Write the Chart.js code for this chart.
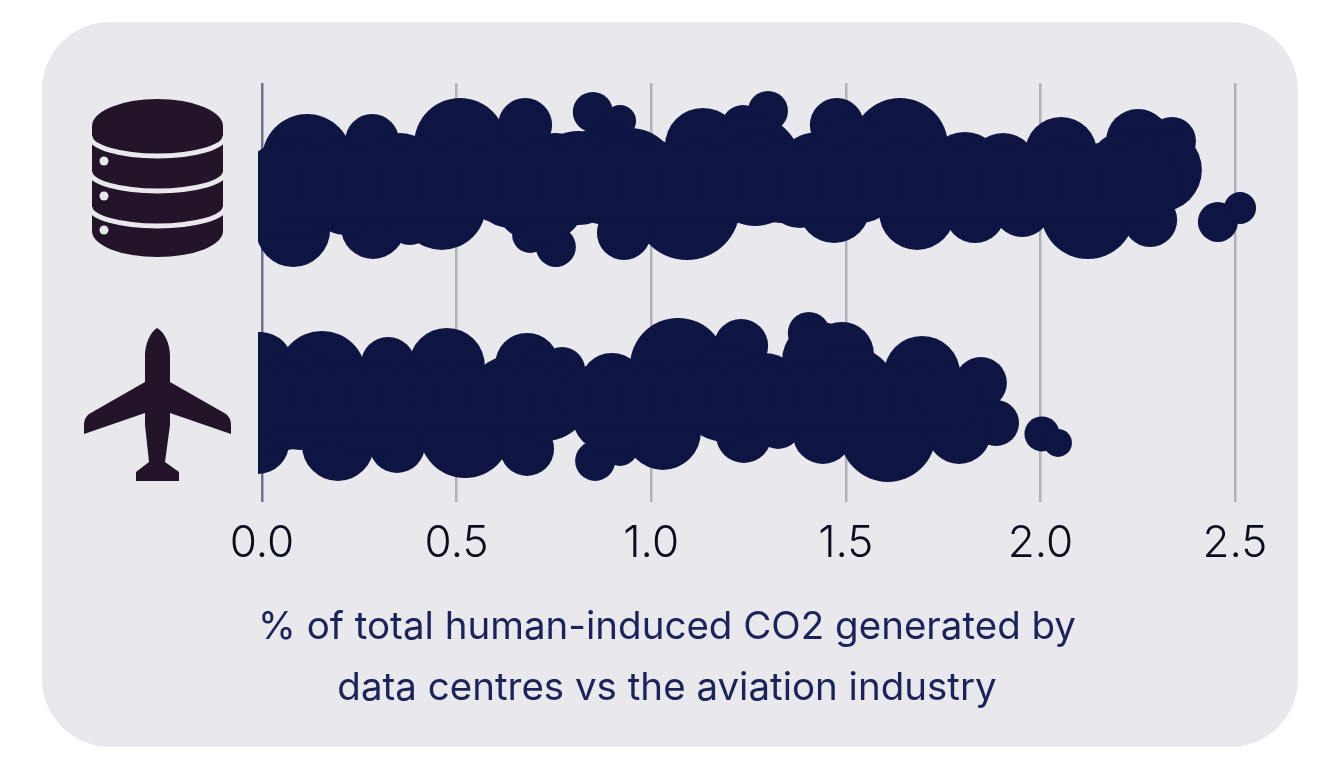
<!DOCTYPE html>
<html>
<head>
<meta charset="utf-8">
<script src="https://cdn.jsdelivr.net/npm/chart.js@4"></script>
<style>
  html, body { margin: 0; background: #fff; }
  #panel { position: absolute; left: 42px; top: 22px; width: 1256px; height: 725px; border-radius: 68px; background: #e8e8ed; }
  #bubbles { position: absolute; left: 0; top: 0; }
  svg { position: absolute; left: 0; top: 0; }
</style>
</head>
<body>
<div id="panel"></div>
<svg width="1320" height="773">
  <path fill="#231429" d="M92 126 V231 A65.5 26 0 0 0 223 231 V126 Z"/>
  <ellipse fill="#231429" cx="157.5" cy="126" rx="65.5" ry="27"/>
  <g fill="none" stroke="#e8e8ed" stroke-width="5">
    <path d="M90 136 A67.5 20 0 0 0 225 136"/>
    <path d="M90 172 A67.5 19 0 0 0 225 172"/>
    <path d="M90 207 A67.5 19 0 0 0 225 207"/>
  </g>
  <g fill="#e8e8ed">
    <circle cx="104" cy="161" r="4.5"/>
    <circle cx="104" cy="196" r="4.5"/>
    <circle cx="104" cy="230" r="4.5"/>
  </g>
  <path fill="#231429" d="M157 328 C150 332 145 345 145 355 L145 382 L89 414 Q84 418 84 425 L84 434 L145 413 L145 425 L149 462 L136 472 L136 481 L179 481 L179 472 L165 462 L170 425 L170 413 L231 434 L231 425 Q231 418 226 414 L170 382 L170 355 C170 345 165 332 157 328 Z"/>
</svg>
<canvas id="bubbles" width="1320" height="773"></canvas>
<script>
var tickValues = [0, 0.5, 1, 1.5, 2, 2.5];
var captionLines = ["% of total human-induced CO2 generated by", "data centres vs the aviation industry"];
var rowCentres = [0, 215];

// data centres
var dcShare = [0.116,0.080,0.072,0.283,0.355,0.285,0.380,0.509,0.462,0.213,0.676,0.753,0.850,0.920,0.889,0.946,0.971,1.133,1.236,1.300,1.249,1.477,1.429,1.092,0.930,0.755,0.689,0.714,0.637,1.267,1.382,1.470,1.639,1.683,1.511,1.806,1.904,1.832,1.953,2.053,2.122,2.282,2.251,2.338,2.307,2.230,2.456,2.513,0.812,
  0.098,0.200,0.303,0.406,0.509,0.612,0.714,0.817,0.920,1.023,1.125,1.228,1.331,1.434,1.536,1.639,1.742,1.845,1.948,2.050,2.153,2.256];
var dcSwarm = [-31,40,0,-49,-20,37,30,-46,16,10,-65,-25,-78,-69,-15,-15,0,-44,-63,-79,-22,-65,-12,17,43,57,45,5,0,-12,2,17,-44,22,-22,-20,-22,23,18,-37,22,30,-49,-49,-20,-15,32,18,-12,
  -7,-7,-7,-7,-7,-7,-7,-7,-7,-7,-7,-7,-7,-7,-7,-7,-7,-7,-7,-7,-7,-7];
var dcSize = [45,37,50,27,37,32,25,46,44,35,27,32,20,16,50,47,54,38,22,20,54,27,46,53,27,20,18,48,38,48,36,36,48,38,49,38,35,30,29,36,47,27,32,24,42,45,20,16,47,
  40,40,40,40,40,40,40,40,40,40,40,40,40,40,40,40,40,40,40,40,40,40];

// aviation
var avShare = [-0.005,-0.010,0.059,0.033,0.154,0.195,0.324,0.347,0.475,0.522,0.637,0.681,0.771,0.681,0.727,0.899,1.069,1.030,0.856,0.920,0.894,1.231,1.292,1.405,1.490,1.434,1.511,1.238,1.190,1.326,1.441,1.608,1.696,1.847,1.886,1.791,2.004,2.045,0.098,0.265,
  0.072,0.149,0.226,0.303,0.380,0.457,0.534,0.612,0.689,0.766,0.843,0.920,0.997,1.074,1.151,1.228,1.305,1.382,1.459,1.536,1.614,1.691,1.768];
var avSwarm = [-40,38,0,0,-30,40,-41,40,-39,27,-8,-40,-35,44,-10,-20,-39,27,56,43,10,-59,-15,-72,-51,-45,-10,30,-10,20,29,29,-31,-22,18,27,29,38,-5,5,
  -7,-7,-7,-7,-7,-7,-7,-7,-7,-7,-7,-7,-7,-7,-7,-7,-7,-7,-7,-7,-7,-7,-7];
var avSize = [33,31,45,45,44,36,27,28,38,46,41,32,23,27,46,32,48,38,20,18,38,27,37,21,32,38,48,28,47,24,30,48,38,26,23,32,17.5,14,50,45,
  32,32,32,32,32,32,32,32,32,32,32,32,32,32,32,32,32,32,32,32,32,32,32];

function points(share, swarm, size, row) {
  return share.map(function (v, i) {
    return { x: v, y: rowCentres[row] + swarm[i], r: size[i] };
  });
}

var swarmClip = { left: 4, top: false, right: false, bottom: false };

new Chart(document.getElementById("bubbles"), {
  type: 'bubble',
  data: {
    datasets: [
      { label: "Data centres", data: points(dcShare, dcSwarm, dcSize, 0), backgroundColor: "#0e1543", borderWidth: 0, clip: swarmClip },
      { label: "Aviation", data: points(avShare, avSwarm, avSize, 1), backgroundColor: "#0e1543", borderWidth: 0, clip: swarmClip }
    ]
  },
  options: {
    responsive: false,
    animation: false,
    layout: { padding: { left: 14, right: 0, top: 83, bottom: 55 } },
    plugins: {
      legend: { display: false },
      tooltip: { enabled: false },
      title: {
        display: true,
        position: 'bottom',
        text: captionLines,
        color: "#1c2358",
        padding: 0,
        font: { family: "Inter", size: 38.5, weight: 400, lineHeight: 1.56 }
      }
    },
    scales: {
      x: {
        type: 'linear',
        min: 0,
        max: 2.5,
        afterBuildTicks: function (axis) { axis.ticks = tickValues.map(function (v) { return { value: v }; }); },
        afterFit: function (axis) { axis.height = 96; },
        grid: {
          drawTicks: false,
          lineWidth: 2.5,
          color: function (ctx) { return ctx.tick && ctx.tick.value === 0 ? "#6f7089" : "#b1b1bb"; }
        },
        border: { display: false },
        ticks: {
          padding: 15,
          maxRotation: 0,
          color: "#0b0b1e",
          font: { family: "Inter", size: 44, weight: 300 },
          callback: function (v) { return Number(v).toFixed(1); }
        }
      },
      y: {
        type: 'linear',
        reverse: true,
        min: -107,
        max: 312,
        afterFit: function (axis) { axis.width = 248; },
        grid: { display: false },
        border: { display: false },
        ticks: { display: false }
      },
      yRight: {
        type: 'linear',
        position: 'right',
        afterFit: function (axis) { axis.width = 85; },
        grid: { display: false },
        border: { display: false },
        ticks: { display: false }
      }
    }
  }
});
</script>
</body>
</html>
